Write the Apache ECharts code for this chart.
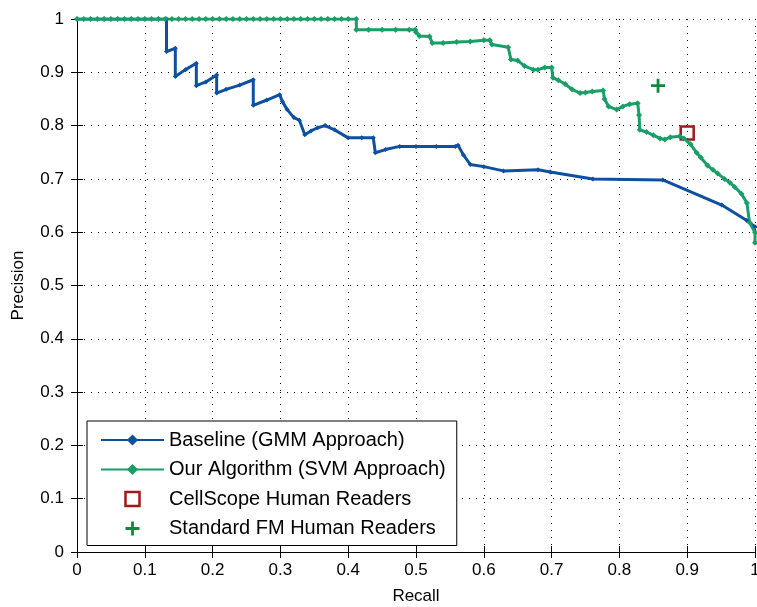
<!DOCTYPE html>
<html>
<head>
<meta charset="utf-8">
<script src="https://cdn.jsdelivr.net/npm/echarts@6/dist/echarts.min.js"></script>
<style>
  html, body { margin: 0; padding: 0; background: #fff; }
  #chart { width: 757px; height: 607px; }
</style>
</head>
<body>
<div id="chart"></div>
<script>
// values: [recall, precision]
const baseline = [
  [0, 1], [0.02, 1], [0.04, 1], [0.06, 1], [0.08, 1], [0.1, 1], [0.12, 1], [0.132, 1],
  [0.132, 0.939], [0.145, 0.945], [0.145, 0.892], [0.16, 0.905], [0.176, 0.917],
  [0.176, 0.875], [0.19, 0.882], [0.206, 0.895], [0.206, 0.861], [0.22, 0.868],
  [0.24, 0.876], [0.26, 0.886], [0.26, 0.838], [0.28, 0.848], [0.299, 0.858],
  [0.303, 0.845], [0.31, 0.83], [0.32, 0.815], [0.328, 0.81], [0.336, 0.783],
  [0.345, 0.79], [0.355, 0.796], [0.366, 0.8], [0.38, 0.792], [0.4, 0.777],
  [0.42, 0.777], [0.437, 0.777], [0.44, 0.749], [0.455, 0.755], [0.476, 0.761],
  [0.5, 0.761], [0.53, 0.761], [0.558, 0.761], [0.562, 0.763], [0.57, 0.745],
  [0.58, 0.727], [0.6, 0.723], [0.629, 0.715], [0.68, 0.717], [0.698, 0.713],
  [0.761, 0.7], [0.864, 0.698], [0.951, 0.651], [0.988, 0.622], [1, 0.61]
];

const svm = [
  [0, 1], [0.01, 1], [0.02, 1], [0.03, 1], [0.04, 1], [0.05, 1], [0.06, 1], [0.07, 1],
  [0.08, 1], [0.09, 1], [0.1, 1], [0.11, 1], [0.12, 1], [0.13, 1], [0.14, 1], [0.15, 1],
  [0.16, 1], [0.17, 1], [0.18, 1], [0.19, 1], [0.2, 1], [0.21, 1], [0.22, 1], [0.23, 1],
  [0.24, 1], [0.25, 1], [0.26, 1], [0.27, 1], [0.28, 1], [0.29, 1], [0.3, 1], [0.31, 1],
  [0.32, 1], [0.33, 1], [0.34, 1], [0.35, 1], [0.36, 1], [0.37, 1], [0.38, 1], [0.39, 1],
  [0.4, 1], [0.412, 1],
  [0.412, 0.98], [0.43, 0.98], [0.45, 0.98], [0.47, 0.98], [0.49, 0.98], [0.499, 0.98],
  [0.5, 0.975], [0.505, 0.968], [0.52, 0.967], [0.524, 0.955], [0.54, 0.955],
  [0.56, 0.957], [0.58, 0.958], [0.6, 0.96], [0.609, 0.96], [0.612, 0.952],
  [0.636, 0.947], [0.64, 0.924], [0.65, 0.922], [0.66, 0.912], [0.673, 0.905],
  [0.68, 0.905], [0.69, 0.909], [0.7, 0.909], [0.702, 0.89], [0.71, 0.885],
  [0.72, 0.878], [0.73, 0.868], [0.742, 0.861], [0.75, 0.862], [0.76, 0.864],
  [0.776, 0.866], [0.778, 0.85], [0.784, 0.836], [0.796, 0.83], [0.805, 0.836],
  [0.815, 0.84], [0.827, 0.842], [0.829, 0.82], [0.83, 0.792], [0.84, 0.788],
  [0.85, 0.782], [0.86, 0.776], [0.867, 0.774], [0.875, 0.778], [0.889, 0.78],
  [0.895, 0.776], [0.905, 0.765], [0.914, 0.749], [0.92, 0.74], [0.93, 0.725],
  [0.938, 0.717], [0.945, 0.71], [0.955, 0.7], [0.963, 0.693], [0.97, 0.685],
  [0.98, 0.672], [0.988, 0.655], [0.992, 0.618], [1, 0.6], [1, 0.58]
];

const cellScope = [[0.9, 0.786]];
const standardFM = [[0.857, 0.875]];

const names = [
  "Baseline (GMM Approach)",
  "Our Algorithm (SVM Approach)",
  "CellScope Human Readers",
  "Standard FM Human Readers"
];

const plus = "path://M4,0h2v4h4v2h-4v4h-2v-4h-4v-2h4z";
const square = "path://M0,0h10v10h-10z";
const font = "Liberation Sans, Arial, sans-serif";

const chart = echarts.init(document.getElementById("chart"));

const frame = {
  axisLine: { show: true, lineStyle: { color: "#000", width: 1 } },
  axisTick: { show: true, inside: true, length: 6, lineStyle: { color: "#000" } },
  axisLabel: { show: false },
  splitLine: { show: false }
};

chart.setOption({
  animation: false,
  grid: { left: 77, top: 19, right: 2, bottom: 55, outerBoundsMode: "none", containLabel: false },
  legend: {
    orient: "vertical",
    left: 87,
    top: 421,
    padding: [9, 11, 7, 13],
    itemWidth: 63,
    itemHeight: 14,
    itemGap: 9.5,
    symbolKeepAspect: true,
    backgroundColor: "#fff",
    borderColor: "#000",
    borderWidth: 1,
    textStyle: { fontFamily: font, fontSize: 20, color: "#000" },
    data: [
      { name: names[0] },
      { name: names[1] },
      { name: names[2], icon: square, itemStyle: { color: "transparent", borderColor: "#a01a1a", borderWidth: 2.5, opacity: 1 } },
      { name: names[3], icon: plus, itemStyle: { color: "#0e8a3e", opacity: 1 } }
    ]
  },
  xAxis: [
    {
      type: "value", min: 0, max: 1, interval: 0.1,
      name: "Recall", nameLocation: "middle", nameGap: 36,
      nameTextStyle: { fontFamily: font, fontSize: 17, color: "#000" },
      axisLine: { show: true, onZero: false, lineStyle: { color: "#000", width: 1 } },
      axisTick: { show: true, inside: true, length: 6, lineStyle: { color: "#000" } },
      axisLabel: { fontFamily: font, fontSize: 17, color: "#000", margin: 10 },
      splitLine: { show: true, lineStyle: { color: "#000", type: [1, 6], width: 1 } }
    },
    Object.assign({ type: "value", min: 0, max: 1, interval: 0.1, position: "top" }, frame)
  ],
  yAxis: [
    {
      type: "value", min: 0, max: 1, interval: 0.1,
      name: "Precision", nameLocation: "middle", nameGap: 50,
      nameTextStyle: { fontFamily: font, fontSize: 17, color: "#000" },
      axisLine: { show: true, onZero: false, lineStyle: { color: "#000", width: 1 } },
      axisTick: { show: true, inside: true, length: 6, lineStyle: { color: "#000" } },
      axisLabel: { fontFamily: font, fontSize: 17, color: "#000", margin: 13 },
      splitLine: { show: true, lineStyle: { color: "#000", type: [1, 6], width: 1 } }
    },
    Object.assign({ type: "value", min: 0, max: 1, interval: 0.1, position: "right" }, frame)
  ],
  series: [
    {
      name: names[0], type: "line", data: baseline,
      symbol: "diamond", symbolSize: 5, showSymbol: true,
      lineStyle: { color: "#0d50a0", width: 3 },
      itemStyle: { color: "#0d50a0" }
    },
    {
      name: names[1], type: "line", data: svm,
      symbol: "diamond", symbolSize: 6, showSymbol: true,
      lineStyle: { color: "#1a9e68", width: 3 },
      itemStyle: { color: "#1a9e68" }
    },
    {
      name: names[2], type: "scatter", data: cellScope,
      symbol: "rect", symbolSize: 13,
      itemStyle: { color: "transparent", borderColor: "#a01a1a", borderWidth: 2.5, opacity: 1 }
    },
    {
      name: names[3], type: "scatter", data: standardFM,
      symbol: plus, symbolSize: 14,
      itemStyle: { color: "#0e8a3e", opacity: 1 }
    }
  ]
});
</script>
</body>
</html>
